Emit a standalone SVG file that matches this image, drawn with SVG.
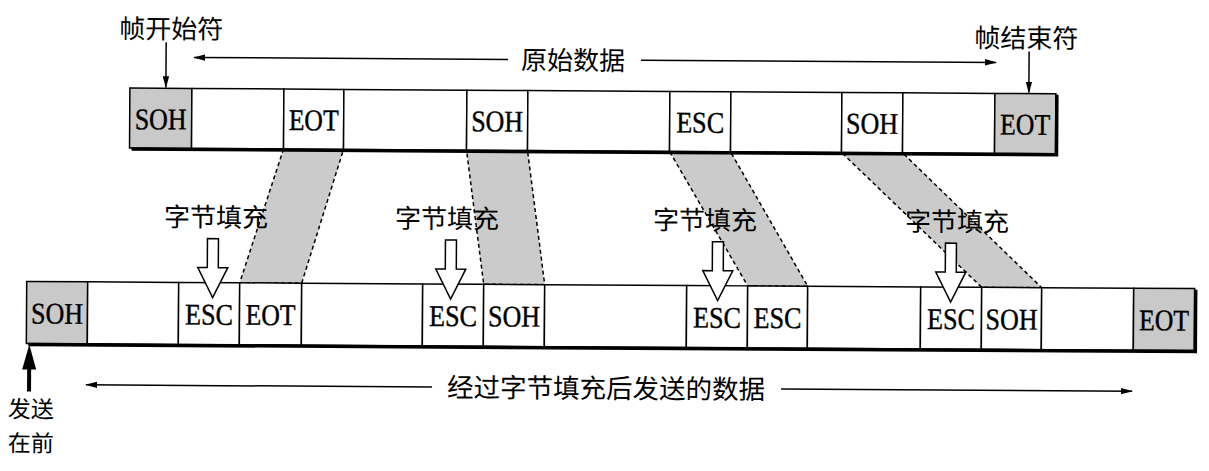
<svg xmlns="http://www.w3.org/2000/svg" width="1209" height="471" viewBox="0 0 1209 471">
<defs>
<marker id="ah" viewBox="0 0 12 8" refX="11" refY="4" markerWidth="12" markerHeight="8" markerUnits="userSpaceOnUse" orient="auto">
<path d="M0,0.8 L12,4 L0,7.2 Z" fill="#000"/>
</marker>
<style>
.cell{fill:#fff;stroke:#000;stroke-width:1.5}
.g{fill:#c9c9c9;stroke:#000;stroke-width:1.5}
.lt{font-family:"Liberation Serif",serif;font-size:30px;text-anchor:middle;fill:#000;stroke:#000;stroke-width:0.4}
.cj{font-family:"Noto Sans CJK SC",sans-serif;font-size:26px;text-anchor:middle;fill:#000}
.ln{stroke:#000;stroke-width:1.5;fill:none;marker-end:url(#ah)}
.par{fill:#cbcbcb;stroke:#000;stroke-width:1.5;stroke-dasharray:4 3}
.hol{fill:#fff;stroke:#000;stroke-width:1.5;stroke-linejoin:miter}
.sh{stroke:#000;stroke-width:3.5;fill:none}
</style>
</defs>
<rect width="1209" height="471" fill="#fff"/>
<g transform="rotate(0.35 604 235)">
<g id="connectors">
<polygon class="par" points="283,151 343,151 302,285 240,285"/>
<polygon class="par" points="466,151 527,151 545,285 484,285"/>
<polygon class="par" points="669,151 730,151 808,285 748,285"/>
<polygon class="par" points="841,151 902,151 1042,285 982,285"/>
<line class="ln" x1="165" y1="45" x2="165" y2="90"/>
<line class="ln" x1="1028" y1="49" x2="1028" y2="90"/>
<line class="ln" x1="507" y1="60" x2="193" y2="60"/>
<line class="ln" x1="640" y1="60" x2="995" y2="60"/>
<line class="ln" x1="433" y1="388" x2="87" y2="388"/>
<line class="ln" x1="782" y1="388" x2="1133" y2="388"/>
<line x1="30" y1="395" x2="30" y2="366" stroke="#000" stroke-width="4"/>
<polygon points="30,348 37,373 23,373" fill="#000"/>
</g>
<g id="top-frame">
<g id="t1"><rect class="g" x="129" y="91" width="62" height="60"/><text class="lt" x="160" y="132" textLength="52" lengthAdjust="spacingAndGlyphs">SOH</text></g>
<g id="t2"><rect class="cell" x="191" y="91" width="92" height="60"/></g>
<g id="t3"><rect class="cell" x="283" y="91" width="60" height="60"/><text class="lt" x="313" y="132" textLength="50" lengthAdjust="spacingAndGlyphs">EOT</text></g>
<g id="t4"><rect class="cell" x="343" y="91" width="123" height="60"/></g>
<g id="t5"><rect class="cell" x="466" y="91" width="61" height="60"/><text class="lt" x="496.5" y="132" textLength="52" lengthAdjust="spacingAndGlyphs">SOH</text></g>
<g id="t6"><rect class="cell" x="527" y="91" width="142" height="60"/></g>
<g id="t7"><rect class="cell" x="669" y="91" width="61" height="60"/><text class="lt" x="699.5" y="132" textLength="48" lengthAdjust="spacingAndGlyphs">ESC</text></g>
<g id="t8"><rect class="cell" x="730" y="91" width="111" height="60"/></g>
<g id="t9"><rect class="cell" x="841" y="91" width="61" height="60"/><text class="lt" x="871.5" y="132" textLength="52" lengthAdjust="spacingAndGlyphs">SOH</text></g>
<g id="t10"><rect class="cell" x="902" y="91" width="92" height="60"/></g>
<g id="t11"><rect class="g" x="994" y="91" width="61" height="60"/><text class="lt" x="1024.5" y="132" textLength="50" lengthAdjust="spacingAndGlyphs">EOT</text></g>
<path class="sh" d="M131,152 H1056 V92"/>
</g>
<g id="bottom-frame">
<g id="b1"><rect class="g" x="27" y="285" width="61" height="62"/><text class="lt" x="57.5" y="327" textLength="52" lengthAdjust="spacingAndGlyphs">SOH</text></g>
<g id="b2"><rect class="cell" x="88" y="285" width="91" height="62"/></g>
<g id="b3"><rect class="cell" x="179" y="285" width="61" height="62"/><text class="lt" x="209.5" y="327" textLength="48" lengthAdjust="spacingAndGlyphs">ESC</text></g>
<g id="b4"><rect class="cell" x="240" y="285" width="62" height="62"/><text class="lt" x="271" y="327" textLength="50" lengthAdjust="spacingAndGlyphs">EOT</text></g>
<g id="b5"><rect class="cell" x="302" y="285" width="121" height="62"/></g>
<g id="b6"><rect class="cell" x="423" y="285" width="61" height="62"/><text class="lt" x="453.5" y="327" textLength="48" lengthAdjust="spacingAndGlyphs">ESC</text></g>
<g id="b7"><rect class="cell" x="484" y="285" width="61" height="62"/><text class="lt" x="514.5" y="327" textLength="52" lengthAdjust="spacingAndGlyphs">SOH</text></g>
<g id="b8"><rect class="cell" x="545" y="285" width="142" height="62"/></g>
<g id="b9"><rect class="cell" x="687" y="285" width="61" height="62"/><text class="lt" x="717.5" y="327" textLength="48" lengthAdjust="spacingAndGlyphs">ESC</text></g>
<g id="b10"><rect class="cell" x="748" y="285" width="60" height="62"/><text class="lt" x="778" y="327" textLength="48" lengthAdjust="spacingAndGlyphs">ESC</text></g>
<g id="b11"><rect class="cell" x="808" y="285" width="113" height="62"/></g>
<g id="b12"><rect class="cell" x="921" y="285" width="61" height="62"/><text class="lt" x="951.5" y="327" textLength="48" lengthAdjust="spacingAndGlyphs">ESC</text></g>
<g id="b13"><rect class="cell" x="982" y="285" width="60" height="62"/><text class="lt" x="1012" y="327" textLength="52" lengthAdjust="spacingAndGlyphs">SOH</text></g>
<g id="b14"><rect class="cell" x="1042" y="285" width="92" height="62"/></g>
<g id="b15"><rect class="g" x="1134" y="285" width="61" height="62"/><text class="lt" x="1164.5" y="327" textLength="50" lengthAdjust="spacingAndGlyphs">EOT</text></g>
<path class="sh" d="M29,348 H1196 V286"/>
</g>
<g id="labels">
<text class="cj" x="170" y="41">帧开始符</text>
<text class="cj" x="1025" y="45">帧结束符</text>
<text class="cj" x="572" y="70">原始数据</text>
<text class="cj" x="607" y="398" style="font-size:26.5px">经过字节填充后发送的数据</text>
<text class="cj" x="32" y="421" style="font-size:23px">发送</text>
<text class="cj" x="32" y="455" style="font-size:23px">在前</text>
</g>
<g id="stuff1"><text class="cj" x="216" y="229">字节填充</text><polygon class="hol" points="207.5,241 218.5,241 218.5,270 228,270 213,300 198,270 207.5,270"/></g>
<g id="stuff2"><text class="cj" x="447" y="229">字节填充</text><polygon class="hol" points="445.5,241 456.5,241 456.5,270 466,270 451,300 436,270 445.5,270"/></g>
<g id="stuff3"><text class="cj" x="705" y="229">字节填充</text><polygon class="hol" points="712.5,241 723.5,241 723.5,270 733,270 718,300 703,270 712.5,270"/></g>
<g id="stuff4"><text class="cj" x="957" y="229">字节填充</text><polygon class="hol" points="945.5,241 956.5,241 956.5,270 966,270 951,300 936,270 945.5,270"/></g>
</g>
</svg>
